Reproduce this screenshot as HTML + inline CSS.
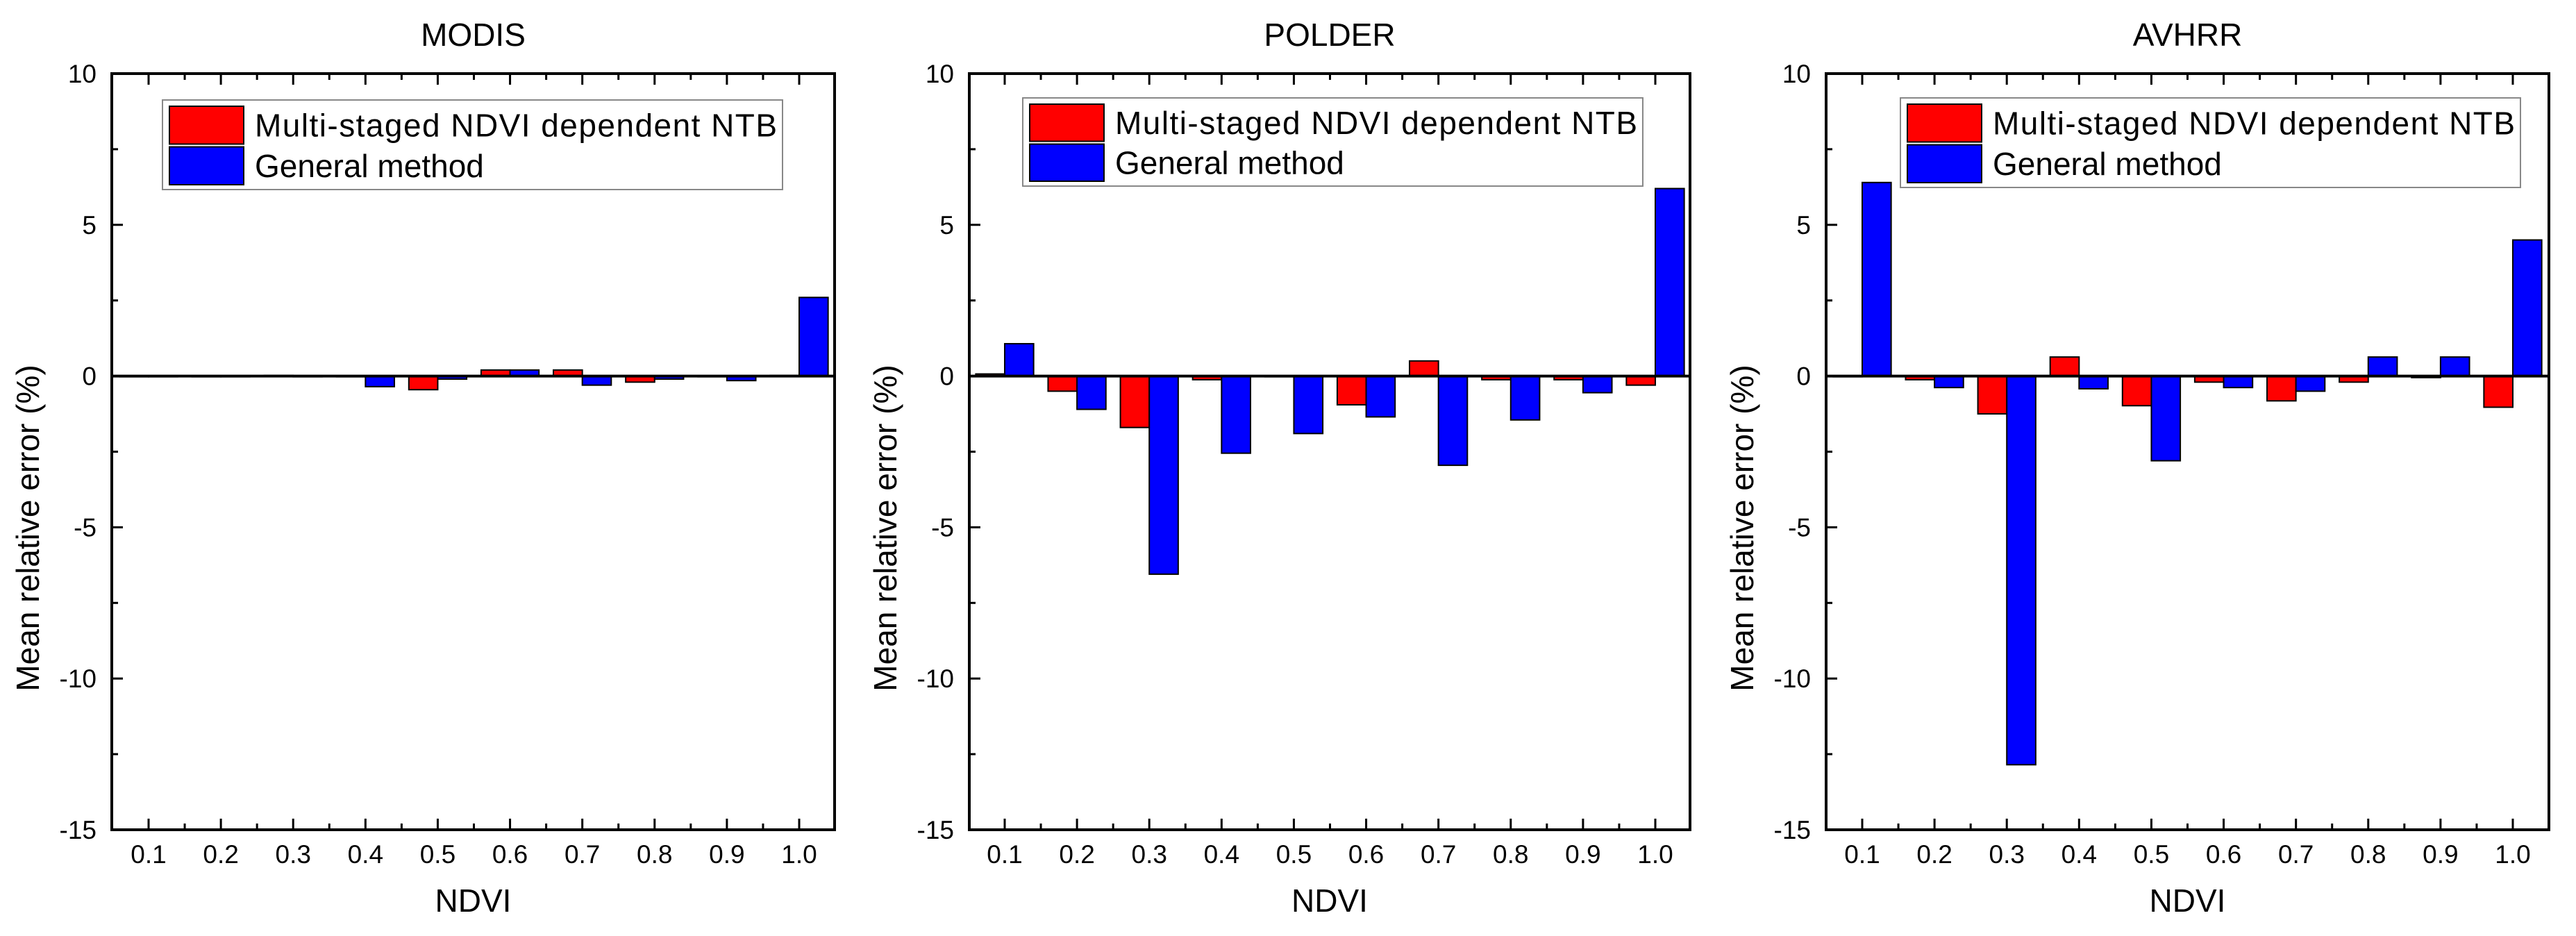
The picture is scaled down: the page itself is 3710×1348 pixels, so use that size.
<!DOCTYPE html>
<html><head><meta charset="utf-8"><style>
html,body{margin:0;padding:0;background:#fff;}
svg{display:block;font-family:"Liberation Sans",Arial,sans-serif;}
</style></head><body>
<svg id="fig" width="3710" height="1348" viewBox="0 0 3710 1348" xmlns="http://www.w3.org/2000/svg"></svg>
<script>
const categories = ["0.1","0.2","0.3","0.4","0.5","0.6","0.7","0.8","0.9","1.0"];
const yTicks = [10,5,0,-5,-10,-15];
const panelTitles = ["MODIS","POLDER","AVHRR"];
const modisMulti = [0,0,0.02,0,-0.45,0.2,0.2,-0.2,0,0.02];
const modisGeneral = [0,0,0,-0.35,-0.1,0.2,-0.3,-0.1,-0.15,2.6];
const polderMulti = [0.07,-0.5,-1.7,-0.12,0,-0.95,0.5,-0.12,-0.12,-0.3];
const polderGeneral = [1.07,-1.1,-6.55,-2.55,-1.9,-1.35,-2.95,-1.45,-0.55,6.2];
const avhrrMulti = [0,-0.12,-1.25,0.63,-0.98,-0.2,-0.82,-0.2,-0.05,-1.03];
const avhrrGeneral = [6.4,-0.38,-12.85,-0.42,-2.8,-0.38,-0.5,0.63,0.63,4.5];
const legendLabels = ["Multi-staged NDVI dependent NTB","General method"];

const NS="http://www.w3.org/2000/svg";
const svg=document.getElementById('fig');
function mk(tag,attrs,parent){const e=document.createElementNS(NS,tag);for(const k in attrs)e.setAttribute(k,attrs[k]);(parent||svg).appendChild(e);return e;}

const panels=[
 {L:161,R:1202,t0:214,t1:1151,lg:[234,144,1127,273],multi:modisMulti,gen:modisGeneral,name:'modis'},
 {L:1396,R:2434,t0:1447,t1:2384,lg:[1473,141,2366,268],multi:polderMulti,gen:polderGeneral,name:'polder'},
 {L:2630,R:3671,t0:2682,t1:3619,lg:[2737,141,3630,270],multi:avhrrMulti,gen:avhrrGeneral,name:'avhrr'}
];
const T=106,B=1195,ymin=-15,ymax=10;
function yS(v){return T+(ymax-v)/(ymax-ymin)*(B-T);}

panels.forEach((p,pi)=>{
 const g=mk('g',{});
 
 
 const step=(p.t1-p.t0)/(categories.length-1);
 const xS=i=>p.t0+i*step;
 const bw=step*0.4;
 const title=mk('text',{x:(p.L+p.R)/2,y:66,'font-size':46,'text-anchor':'middle',fill:'#000'},g);
 title.textContent=panelTitles[pi];
 
 
 // bars
 categories.forEach((c,i)=>{
  const x=xS(i);
  [[p.multi[i],x-bw,'#ff0000','multi'],[p.gen[i],x,'#0000ff','general']].forEach(([v,bx,col,s])=>{
   const y0=yS(0),y1=yS(v);
   const r=mk('rect',{x:bx,y:Math.min(y0,y1),width:bw,height:Math.max(Math.abs(y1-y0),1),fill:col,stroke:'#000','stroke-width':2},g);
   
   
  });
 });
 // zero line
 const z=mk('line',{x1:p.L,x2:p.R,y1:yS(0),y2:yS(0),stroke:'#000','stroke-width':4},g);
 
 
 // axes box
 const box=mk('rect',{x:p.L,y:T,width:p.R-p.L,height:B-T,fill:'none',stroke:'#000','stroke-width':4},g);
 
 
 // y ticks
 yTicks.forEach(v=>{
  const y=yS(v);
  mk('line',{x1:p.L,x2:p.L+16,y1:y,y2:y,stroke:'#000','stroke-width':3},g);
  const t=mk('text',{x:p.L-22,y:y+13,'font-size':37,'text-anchor':'end',fill:'#000'},g);
  t.textContent=String(v);
  
  
 });
 for(let v=ymax-2.5;v>ymin;v-=5){const y=yS(v);mk('line',{x1:p.L,x2:p.L+9,y1:y,y2:y,stroke:'#000','stroke-width':3},g);}
 // x ticks
 categories.forEach((c,i)=>{
  const x=xS(i);
  mk('line',{x1:x,x2:x,y1:B,y2:B-16,stroke:'#000','stroke-width':3},g);
  mk('line',{x1:x,x2:x,y1:T,y2:T+16,stroke:'#000','stroke-width':3},g);
  const mx=x-step/2;
  if(mx>p.L+5){mk('line',{x1:mx,x2:mx,y1:B,y2:B-9,stroke:'#000','stroke-width':3},g);mk('line',{x1:mx,x2:mx,y1:T,y2:T+9,stroke:'#000','stroke-width':3},g);}
  const t=mk('text',{x:x,y:1243,'font-size':37,'text-anchor':'middle',fill:'#000'},g);
  t.textContent=c;
  
  
 });
 const xm=xS(categories.length-1)+step/2;
 if(xm<p.R-5){mk('line',{x1:xm,x2:xm,y1:B,y2:B-9,stroke:'#000','stroke-width':3},g);mk('line',{x1:xm,x2:xm,y1:T,y2:T+9,stroke:'#000','stroke-width':3},g);}
 const xt=mk('text',{x:(p.L+p.R)/2,y:1313,'font-size':46,'text-anchor':'middle',fill:'#000'},g);
 xt.textContent='NDVI';
 
 
 const yx=p.L-105, yy=(T+B)/2+110;
 const yt=mk('text',{x:yx,y:yy,'font-size':46,'text-anchor':'middle',fill:'#000',transform:`rotate(-90 ${yx} ${yy})`},g);
 yt.textContent='Mean relative error (%)';
 
 
 // legend
 const [lx0,ly0,lx1,ly1]=p.lg;
 const lg=mk('g',{},g);
 
 
 mk('rect',{x:lx0,y:ly0,width:lx1-lx0,height:ly1-ly0,fill:'#fff',stroke:'#888','stroke-width':2},lg);
 const hh=(ly1-ly0-20)/2;
 [['#ff0000',0],['#0000ff',1]].forEach(([col,k])=>{
  const sy=ly0+9+k*(hh+4);
  const e=mk('g',{},lg);
  
  
  mk('rect',{x:lx0+10,y:sy,width:107,height:hh,fill:col,stroke:'#000','stroke-width':2},e);
  const t=mk('text',{x:lx0+133,y:sy+hh/2+16,'font-size':46,fill:'#000'},e);
  t.textContent=legendLabels[k];
  if(k===0) t.setAttribute('textLength',752);
 });
});
</script>
</body></html>
